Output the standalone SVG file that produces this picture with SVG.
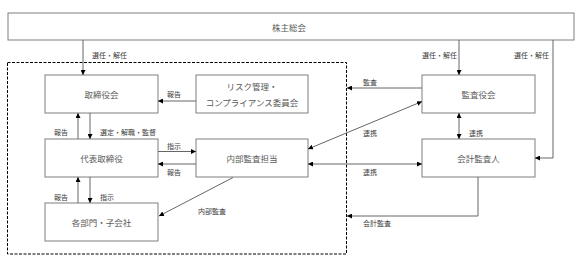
<svg xmlns="http://www.w3.org/2000/svg" width="578" height="263" viewBox="0 0 578 263">
<style>
.box{fill:#fff;stroke:#7f7f7f;stroke-width:1}
.t{font-family:"Noto Sans CJK JP","Noto Sans",sans-serif;font-size:8.5px;fill:#595959;text-anchor:middle;dominant-baseline:central}
.l{font-family:"Noto Sans CJK JP","Noto Sans",sans-serif;font-size:7px;fill:#404040}
.c{fill:none;stroke:#666;stroke-width:1}
.dash{fill:none;stroke:#000;stroke-width:1;stroke-dasharray:3,1.5}
</style>
<defs>
<marker id="a" viewBox="0 0 6 6" refX="6" refY="3" markerWidth="5" markerHeight="5" markerUnits="userSpaceOnUse" orient="auto-start-reverse">
<path d="M0,0L6,3L0,6z" fill="#000"/>
</marker>
</defs>
<rect width="578" height="263" fill="#fff"/>
<rect class="dash" x="7.5" y="62.5" width="339" height="191.5"/>
<g id="n-shareholders"><rect class="box" x="8" y="13" width="566" height="27"/><text class="t" x="289" y="26.5">株主総会</text></g>
<g id="n-board"><rect class="box" x="45" y="75" width="113" height="38"/><text class="t" x="101.5" y="94">取締役会</text></g>
<g id="n-risk"><rect class="box" x="196" y="75" width="112" height="38"/><text class="t" x="252" y="86">リスク管理・</text><text class="t" x="252" y="102">コンプライアンス委員会</text></g>
<g id="n-president"><rect class="box" x="45" y="139" width="113" height="38"/><text class="t" x="101.5" y="158">代表取締役</text></g>
<g id="n-internal"><rect class="box" x="196" y="139" width="112" height="38"/><text class="t" x="252" y="158">内部監査担当</text></g>
<g id="n-divisions"><rect class="box" x="45" y="203" width="113" height="38"/><text class="t" x="101.5" y="222">各部門・子会社</text></g>
<g id="n-auditors"><rect class="box" x="422" y="75" width="113" height="38"/><text class="t" x="478.5" y="94">監査役会</text></g>
<g id="n-accountant"><rect class="box" x="422" y="139" width="113" height="38"/><text class="t" x="478.5" y="158">会計監査人</text></g>
<g id="connectors">
<path class="c" d="M83,40V75" marker-end="url(#a)"/>
<path class="c" d="M459,40V75" marker-end="url(#a)"/>
<path class="c" d="M553,40V158H535" marker-end="url(#a)"/>
<path class="c" d="M196,101H158" marker-end="url(#a)"/>
<path class="c" d="M78,139V113" marker-end="url(#a)"/>
<path class="c" d="M90,113V139" marker-end="url(#a)"/>
<path class="c" d="M158,151.5H196" marker-end="url(#a)"/>
<path class="c" d="M196,164H158" marker-end="url(#a)"/>
<path class="c" d="M90,177V203" marker-end="url(#a)"/>
<path class="c" d="M78,203V177" marker-end="url(#a)"/>
<path class="c" d="M233,177.5L159,216" marker-end="url(#a)"/>
<path class="c" d="M422,88H347" marker-end="url(#a)"/>
<path class="c" d="M422,101.5L308,149" marker-start="url(#a)" marker-end="url(#a)"/>
<path class="c" d="M459,113V139" marker-start="url(#a)" marker-end="url(#a)"/>
<path class="c" d="M422,164H308" marker-start="url(#a)" marker-end="url(#a)"/>
<path class="c" d="M478,177V216H347" marker-end="url(#a)"/>
<text class="l" x="92" y="58">選任・解任</text>
<text class="l" x="457" y="58" text-anchor="end">選任・解任</text>
<text class="l" x="549" y="58" text-anchor="end">選任・解任</text>
<text class="l" x="167" y="97">報告</text>
<text class="l" x="54" y="135">報告</text>
<text class="l" x="100" y="135">選定・解職・監督</text>
<text class="l" x="167" y="148.5">指示</text>
<text class="l" x="167" y="174.5">報告</text>
<text class="l" x="54" y="200">報告</text>
<text class="l" x="100" y="200">指示</text>
<text class="l" x="198" y="213.5">内部監査</text>
<text class="l" x="363" y="84.5">監査</text>
<text class="l" x="363" y="135.5">連携</text>
<text class="l" x="469" y="135.5">連携</text>
<text class="l" x="363" y="174.5">連携</text>
<text class="l" x="363" y="225.5">会計監査</text>
</g>
</svg>
